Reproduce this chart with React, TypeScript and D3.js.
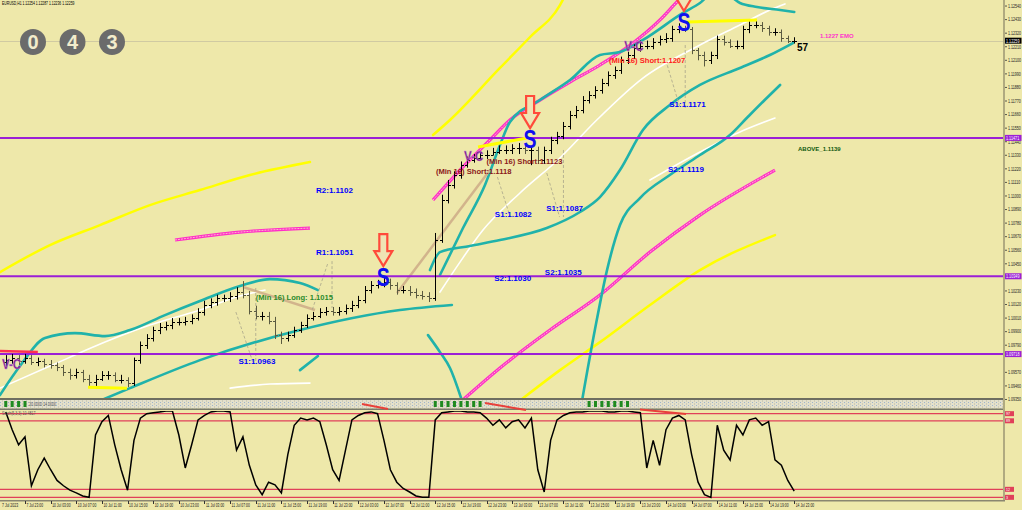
import React from "react";
import * as d3 from "d3";

// ---------------- data ----------------
const header = "EURUSD,H1  1.12254 1.12287 1.12236 1.12259";
const counterDigits = ["0", "4", "3"];

// H1 bars, [open, high, low, close]; first bar = 7 Jul 20:00 (t = -3)
const firstBarT = -3;
const bars: [number, number, number, number][] = [
  [1.0965, 1.0971, 1.0962, 1.0967], [1.0967, 1.0972, 1.0964, 1.0969], [1.0969, 1.0971, 1.0963, 1.0966],
  [1.0966, 1.0972, 1.0964, 1.0969], [1.0969, 1.0971, 1.0963, 1.0965], [1.0965, 1.0969, 1.0962, 1.0966],
  [1.0966, 1.0968, 1.0961, 1.0964], [1.0964, 1.0967, 1.096, 1.0963], [1.0963, 1.0965, 1.0958, 1.0961],
  [1.0961, 1.0963, 1.0954, 1.0957], [1.0957, 1.096, 1.0951, 1.0955], [1.0955, 1.096, 1.0952, 1.0957],
  [1.0957, 1.0959, 1.0949, 1.0952], [1.0952, 1.0955, 1.0946, 1.0949], [1.0949, 1.0955, 1.0946, 1.0952],
  [1.0952, 1.0958, 1.095, 1.0955], [1.0955, 1.0958, 1.0951, 1.0955], [1.0955, 1.0957, 1.0949, 1.0951],
  [1.0951, 1.0955, 1.0948, 1.0951], [1.0951, 1.0953, 1.0945, 1.0948], [1.0948, 1.0969, 1.0946, 1.0967],
  [1.0967, 1.0982, 1.0964, 1.0979], [1.0979, 1.0988, 1.0976, 1.0985], [1.0985, 1.0994, 1.0982, 1.0991],
  [1.0991, 1.0997, 1.0988, 1.0994], [1.0994, 1.0998, 1.0991, 1.0995], [1.0995, 1.1001, 1.0992, 1.0998],
  [1.0998, 1.1001, 1.0995, 1.0998], [1.0998, 1.1002, 1.0995, 1.0999], [1.0999, 1.1004, 1.0996, 1.1001],
  [1.1001, 1.1009, 1.0999, 1.1006], [1.1006, 1.1015, 1.1003, 1.1012], [1.1012, 1.1017, 1.1009, 1.1014],
  [1.1014, 1.102, 1.1011, 1.1017], [1.1017, 1.102, 1.1014, 1.1017], [1.1017, 1.1022, 1.1014, 1.1019],
  [1.1019, 1.1026, 1.1016, 1.1022], [1.1022, 1.1031, 1.1017, 1.102], [1.102, 1.1023, 1.1004, 1.1007],
  [1.1007, 1.1011, 1.1, 1.1003], [1.1003, 1.1006, 1.0999, 1.1003], [1.1003, 1.1006, 1.0996, 1.0999],
  [1.0999, 1.1002, 1.0984, 1.0987], [1.0987, 1.099, 1.098, 1.0985], [1.0985, 1.099, 1.0982, 1.0987],
  [1.0987, 1.0994, 1.0985, 1.0991], [1.0991, 1.0998, 1.0989, 1.0995], [1.0995, 1.1004, 1.0993, 1.1001],
  [1.1001, 1.1006, 1.0999, 1.1003], [1.1003, 1.1009, 1.1001, 1.1006], [1.1006, 1.101, 1.1003, 1.1007],
  [1.1007, 1.101, 1.1003, 1.1006], [1.1006, 1.101, 1.1003, 1.1007], [1.1007, 1.1012, 1.1004, 1.1009],
  [1.1009, 1.1015, 1.1006, 1.1012], [1.1012, 1.1019, 1.1009, 1.1016], [1.1016, 1.1027, 1.1013, 1.1024],
  [1.1024, 1.1031, 1.1021, 1.1028], [1.1028, 1.1032, 1.1025, 1.1029], [1.1029, 1.1034, 1.1026, 1.103],
  [1.103, 1.1033, 1.1024, 1.1028], [1.1028, 1.103, 1.102, 1.1024], [1.1024, 1.1027, 1.1021, 1.1024],
  [1.1024, 1.1027, 1.1019, 1.1022], [1.1022, 1.1025, 1.1017, 1.102], [1.102, 1.1023, 1.1016, 1.1019],
  [1.1019, 1.1022, 1.1014, 1.1017], [1.1017, 1.107, 1.1015, 1.1064], [1.1064, 1.1101, 1.1062, 1.1097],
  [1.1097, 1.1113, 1.1094, 1.1109], [1.1109, 1.112, 1.1106, 1.1117], [1.1117, 1.1128, 1.1114, 1.1125],
  [1.1125, 1.1132, 1.1123, 1.1129], [1.1129, 1.1134, 1.1127, 1.1131], [1.1131, 1.1136, 1.1129, 1.1133],
  [1.1133, 1.1137, 1.113, 1.1133], [1.1133, 1.1139, 1.1133, 1.1136], [1.1136, 1.1141, 1.1134, 1.1137],
  [1.1137, 1.1141, 1.1134, 1.1137], [1.1137, 1.1142, 1.1134, 1.1139], [1.1139, 1.1143, 1.1134, 1.1139],
  [1.1139, 1.1142, 1.1134, 1.1137], [1.1137, 1.114, 1.1125, 1.1137], [1.1137, 1.114, 1.1126, 1.1129],
  [1.1129, 1.114, 1.1126, 1.1137], [1.1137, 1.1148, 1.1134, 1.1145], [1.1145, 1.1152, 1.1142, 1.1149],
  [1.1149, 1.116, 1.1146, 1.1157], [1.1157, 1.1169, 1.1154, 1.1166], [1.1166, 1.1173, 1.1163, 1.117],
  [1.117, 1.1181, 1.1167, 1.1178], [1.1178, 1.1185, 1.1175, 1.1182], [1.1182, 1.1189, 1.1179, 1.1186],
  [1.1186, 1.1195, 1.1183, 1.1192], [1.1192, 1.1201, 1.1189, 1.1198], [1.1198, 1.1205, 1.1195, 1.1202],
  [1.1202, 1.1213, 1.1199, 1.121], [1.121, 1.1217, 1.1207, 1.1214], [1.1214, 1.1223, 1.1211, 1.122],
  [1.122, 1.1226, 1.1217, 1.1222], [1.1222, 1.1226, 1.1219, 1.1222], [1.1222, 1.1228, 1.1219, 1.1225],
  [1.1225, 1.123, 1.1222, 1.1227], [1.1227, 1.1232, 1.1224, 1.1228], [1.1228, 1.1238, 1.1225, 1.1235],
  [1.1235, 1.124, 1.1232, 1.1236], [1.1236, 1.1238, 1.1233, 1.1235], [1.1235, 1.1237, 1.1215, 1.1218],
  [1.1218, 1.122, 1.121, 1.1214], [1.1214, 1.1217, 1.1205, 1.121], [1.121, 1.1217, 1.1207, 1.1214],
  [1.1214, 1.123, 1.1211, 1.1227], [1.1227, 1.123, 1.1222, 1.1225], [1.1225, 1.1227, 1.122, 1.1222],
  [1.1222, 1.1226, 1.1219, 1.1222], [1.1222, 1.1238, 1.1219, 1.1235], [1.1235, 1.1243, 1.1232, 1.1239],
  [1.1239, 1.1243, 1.1236, 1.1239], [1.1239, 1.1241, 1.1233, 1.1236], [1.1236, 1.1238, 1.123, 1.1233],
  [1.1233, 1.1236, 1.123, 1.1233], [1.1233, 1.1235, 1.1225, 1.1228], [1.1228, 1.123, 1.1224, 1.1226],
  [1.12254, 1.12287, 1.12236, 1.12259],
];
const stochMain = [
  99, 79, 62, 71, 16, 34, 47, 34, 22, 16, 11, 8, 4.5, 3, 73, 88, 95, 62, 34, 11,
  67, 92, 97, 98, 99, 100, 100, 73, 36, 62, 90, 95, 99, 100, 100, 99, 56, 71, 39, 17,
  6, 20, 17, 8, 51, 84, 92, 90, 92, 88, 62, 34, 22, 56, 90, 95, 98, 99, 97, 67,
  34, 20, 13, 9, 4.5, 3, 3, 90, 98, 99, 100, 100, 99, 99, 98, 92, 84, 90, 81, 88,
  90, 81, 92, 34, 9, 67, 90, 95, 98, 99, 99, 100, 100, 100, 99, 99, 100, 100, 99, 98,
  36, 67, 39, 79, 92, 95, 90, 51, 20, 6, 3, 84, 56, 45, 84, 73, 90, 92, 84, 88,
  45, 39, 22, 10,
];
const stochLevels = [97, 89, 12, 3];
const greenBlocks = [0, 1, 2, 3, 67, 68, 69, 70, 71, 72, 73, 74, 91, 92, 93, 94, 95, 96, 97];

// price axis
const priceTicks = [
  1.1254, 1.1243, 1.1232, 1.1221, 1.121, 1.1199, 1.1188, 1.1177, 1.1166, 1.1155,
  1.1144, 1.1133, 1.1122, 1.1111, 1.11, 1.1089, 1.1078, 1.1067, 1.1056, 1.1045,
  1.1023, 1.1012, 1.1001, 1.099, 1.0979, 1.0957, 1.0946, 1.0935,
];
const levelLines = [1.11471, 1.10349, 1.09718];
const currentPrice = 1.12259;

// time axis: [label, t]
const timeTicks: [string, number][] = [
  ["7 Jul 23:00", 0], ["10 Jul 03:00", 4], ["10 Jul 07:00", 8], ["10 Jul 11:00", 12],
  ["10 Jul 15:00", 16], ["10 Jul 19:00", 20], ["10 Jul 23:00", 24], ["11 Jul 03:00", 28],
  ["11 Jul 07:00", 32], ["11 Jul 11:00", 36], ["11 Jul 15:00", 40], ["11 Jul 19:00", 44],
  ["11 Jul 23:00", 48], ["12 Jul 03:00", 52], ["12 Jul 07:00", 56], ["12 Jul 11:00", 60],
  ["12 Jul 15:00", 64], ["12 Jul 19:00", 68], ["12 Jul 23:00", 72], ["13 Jul 03:00", 76],
  ["13 Jul 07:00", 80], ["13 Jul 11:00", 84], ["13 Jul 15:00", 88], ["13 Jul 19:00", 92],
  ["13 Jul 23:00", 96], ["14 Jul 03:00", 100], ["14 Jul 07:00", 104], ["14 Jul 11:00", 108],
  ["14 Jul 15:00", 112], ["14 Jul 19:00", 116], ["14 Jul 23:00", 120],
];

// indicator band segments [t, price]
const yellowUpperA: [number, number][] = [[-3.9, 1.10383], [3.9, 1.10602], [11.7, 1.10764], [19.5, 1.10926], [27.3, 1.11048], [35.1, 1.1117], [44.46, 1.11275]];
const yellowUpperB: [number, number][] = [[63.65, 1.11494], [66.3, 1.11616], [74.1, 1.12038], [78.8, 1.12289], [83.46, 1.12548], [84.2, 1.1262]];
const yellowLower: [number, number][] = [[77.2, 1.0934], [83.46, 1.09588], [89.7, 1.09815], [97.5, 1.10116], [105.3, 1.10399], [117.0, 1.10683]];
const pinkUpperA: [number, number][] = [[23.4, 1.10643], [33.54, 1.10707], [44.46, 1.1074]];
const pinkUpperB: [number, number][] = [[63.65, 1.10967], [67.86, 1.1121], [72.54, 1.11454], [75.66, 1.11616], [80.34, 1.11778], [85.02, 1.11924], [89.7, 1.12062], [94.85, 1.1224], [99.06, 1.12427], [101.7, 1.12573], [102.96, 1.1264]];
const pinkLower: [number, number][] = [[68.17, 1.0934], [74.1, 1.09605], [81.9, 1.09913], [89.7, 1.10197], [97.5, 1.10545], [105.3, 1.10845], [117.0, 1.1121]];
const tealUpperA: [number, number][] = [[-3.9, 1.09386], [-0.78, 1.09621], [3.12, 1.09848], [7.8, 1.09888], [12.48, 1.09864], [16.38, 1.09913], [21.84, 1.10034], [27.3, 1.10148], [33.54, 1.1027], [38.22, 1.10326], [42.9, 1.10294], [45.7, 1.10237]];
const tealShort: [number, number][] = [[42.9, 1.09588], [45.7, 1.09702]];
const tealLowerA: [number, number][] = [[11.7, 1.0934], [16.38, 1.09442], [27.3, 1.09669], [42.9, 1.09913], [58.5, 1.10075], [66.6, 1.10116]];
const tealDip: [number, number][] = [[62.87, 1.09872], [64.74, 1.09734], [66.3, 1.09605], [68.17, 1.0934]];
const tealUpperB: [number, number][] = [[64.74, 1.10359], [68.33, 1.1074], [71.76, 1.11089], [74.1, 1.11413], [75.66, 1.116], [80.34, 1.11778], [85.02, 1.1194], [89.7, 1.12143], [92.82, 1.12167], [96.4, 1.12265], [102.65, 1.12484], [105.3, 1.12565], [107.2, 1.1264], [109.2, 1.1264], [111.54, 1.12565], [114.2, 1.12532], [117.8, 1.12508], [120, 1.12492]];
const tealLowerMid: [number, number][] = [[63.18, 1.10399], [64.74, 1.10545], [69.42, 1.10595], [74.1, 1.10643], [81.4, 1.1074], [86.58, 1.1087], [89.7, 1.10991], [92.82, 1.1121], [96.4, 1.11535], [100.6, 1.11737], [105.3, 1.119], [111.54, 1.12038], [116.22, 1.12143], [119.8, 1.1224]];
const tealOuter: [number, number][] = [[86.9, 1.0934], [88.9, 1.09913], [90.8, 1.10399], [92.82, 1.10764], [95.94, 1.10983], [100.6, 1.1117], [105.3, 1.11332], [109.98, 1.11494], [112.6, 1.11632], [115.4, 1.11778], [117.8, 1.119]];
const whiteMidA: [number, number][] = [[-3.9, 1.09442], [3.9, 1.09621], [13.26, 1.09832], [19.5, 1.09953], [27.3, 1.10075], [33.54, 1.10189], [37.44, 1.10237]];
const whiteLowA: [number, number][] = [[32.0, 1.09442], [38.22, 1.09475], [44.46, 1.09483]];
const whiteMidB: [number, number][] = [[64.74, 1.10221], [67.86, 1.10464], [71.45, 1.10724], [77.22, 1.11024], [83.46, 1.11308], [89.2, 1.11616], [96.4, 1.11956], [105.3, 1.12224], [111.54, 1.12386], [116.22, 1.12508], [118.56, 1.12557]];
const whiteLowB: [number, number][] = [[97.5, 1.11129], [105.3, 1.11356], [111.54, 1.11519], [117.0, 1.11632]];

// drawn objects: [t1, p1, t2, p2]
const yellowMarks: [number, number, number, number][] = [[9.83, 1.0945, 15.9, 1.09442], [70.67, 1.11397, 78.3, 1.1147], [103.28, 1.12411, 114.2, 1.12427]];
const tanLines: [number, number, number, number][] = [[34.0, 1.10262, 45.24, 1.10075], [58.04, 1.10213, 72.54, 1.1121]];
const redMark: [number, number, number, number] = [-3.9, 1.09743, 2.0, 1.09735];
const dashedLinks: [number, number, number, number][] = [
  [32.9, 1.10059, 35.6, 1.09645], [36.0, 1.10254, 36.0, 1.09645],
  [47.9, 1.10472, 47.9, 1.10091], [47.2, 1.10448, 44.8, 1.10075],
  [73.7, 1.11154, 75.7, 1.10829], [81.4, 1.11186, 83.4, 1.10829], [84.0, 1.11373, 84.0, 1.10829],
  [100.2, 1.1206, 102.2, 1.11713], [103.0, 1.12224, 103.0, 1.11713],
];
const stochRedLines: [number, number, number, number][] = [[362, 404, 388, 409], [485, 403, 526, 410], [640, 409.5, 686, 414]];

// annotations
const vcMarks: [number, number][] = [[-3.6, 1.096], [68.5, 1.1128], [93.5, 1.12175]];
const sMarks: [number, number][] = [[55.9, 1.10342], [78.8, 1.11462], [102.8, 1.12411]];
const pivotLabels: [string, number, number][] = [
  ["S1:1.0963", 33.3, 1.0963], ["R1:1.1051", 45.4, 1.1051], ["R2:1.1102", 45.4, 1.1102],
  ["S1:1.1082", 73.3, 1.1082], ["S1:1.1087", 81.3, 1.1087], ["S2:1.1030", 73.2, 1.103],
  ["S2:1.1035", 81.1, 1.1035], ["S2:1.1119", 100.3, 1.1119], ["S1:1.1171", 100.5, 1.1171],
];
const minLabels: [string, number, number, string][] = [
  ["(Min 16) Short:1.1118", 64.1, 1.1118, "#8b1a1a"],
  ["(Min 16) Short:1.1123", 72, 1.1123, "#8b1a1a"],
  ["(Min 16) Short:1.1207", 91.1, 1.1207, "#ff1a1a"],
  ["(Min 16) Long: 1.1015", 36, 1.1015, "#2a8a2a"],
];

// ---------------- layout ----------------
const W = 1022;
const H = 510;
const PR = 1003;
const MAIN_B = 398;
const STO_T = 411;
const STO_B = 500;

const x = d3.scaleLinear().domain([0, 120]).range([25, 794.2]);
const y = d3.scaleLinear().domain([1.09362, 1.12589]).range([MAIN_B, 0]);
const ys = d3.scaleLinear().domain([0, 100]).range([STO_B, STO_T]);

const lineGen = d3
  .line<[number, number]>()
  .x((d) => x(d[0]))
  .y((d) => y(d[1]))
  .curve(d3.curveMonotoneX);

const AX = "Liberation Sans, Arial, sans-serif";
// vertical nudges (px) to keep the two stacked labels apart, as in the reference
const labelNudge: Record<string, number> = {
  "(Min 16) Short:1.1123": -2.5,
  "(Min 16) Short:1.1118": 1,
};

function Band({ d, color, w }: { d: [number, number][]; color: string; w: number }) {
  return <path d={lineGen(d) || ""} fill="none" stroke={color} strokeWidth={w} strokeLinecap="round" />;
}
function PinkBand({ d }: { d: [number, number][] }) {
  return (
    <g>
      <path d={lineGen(d) || ""} fill="none" stroke="#ff2ec8" strokeWidth={3.2} />
      <path d={lineGen(d) || ""} fill="none" stroke="#ffb8c8" strokeWidth={1} strokeDasharray="2 1" />
    </g>
  );
}
function Seg({ s, color, w, dash }: { s: [number, number, number, number]; color: string; w: number; dash?: string }) {
  return <line x1={x(s[0])} y1={y(s[1])} x2={x(s[2])} y2={y(s[3])} stroke={color} strokeWidth={w} strokeDasharray={dash} />;
}
function Tiny({ tx, ty, sx, children, fill = "#222", size = 5 }: { tx: number; ty: number; sx: number; children: React.ReactNode; fill?: string; size?: number }) {
  return (
    <text transform={`translate(${tx},${ty}) scale(${sx},1)`} fontFamily={AX} fontSize={size} fill={fill}>
      {children}
    </text>
  );
}

function Arrow({ cx, tipY }: { cx: number; tipY: number }) {
  const p = `M${cx - 4},${tipY - 32} L${cx + 4},${tipY - 32} L${cx + 4},${tipY - 15} L${cx + 9},${tipY - 15} L${cx},${tipY} L${cx - 9},${tipY - 15} L${cx - 4},${tipY - 15} Z`;
  return <path d={p} fill="#efe4b4" stroke="#ff4a3a" strokeWidth={2.2} strokeLinejoin="miter" />;
}

export default function App() {
  const stochPts = stochMain.map((v, i) => [x(firstBarT + i), ys(v)] as [number, number]);
  const stochPath = d3.line()(stochPts) || "";
  return (
    <div style={{ position: "fixed", left: 0, top: 0, width: W, height: H }}>
      <svg width={W} height={H} style={{ display: "block" }}>
        <defs>
          <clipPath id="mainClip">
            <rect x={0} y={0} width={PR} height={MAIN_B} />
          </clipPath>
          <clipPath id="stoClip">
            <rect x={0} y={STO_T} width={PR} height={STO_B - STO_T} />
          </clipPath>
          <pattern id="dots" x={0} y={0} width={4} height={3} patternUnits="userSpaceOnUse">
            <rect x={0} y={0} width={4} height={3} fill="#e4e0cc" />
            <rect x={0} y={0} width={1} height={1} fill="#9fb4cc" />
            <rect x={2} y={1.5} width={1} height={1} fill="#b8b8a8" />
          </pattern>
        </defs>
        <rect x={0} y={0} width={W} height={H} fill="#eee8aa" />

        <line x1={0} x2={PR} y1={Math.round(y(currentPrice)) + 0.5} y2={Math.round(y(currentPrice)) + 0.5} stroke="#d0caa2" strokeWidth={1} />

        <g clipPath="url(#mainClip)">
          <Band d={yellowUpperA} color="#ffff00" w={2.5} />
          <Band d={yellowUpperB} color="#ffff00" w={2.5} />
          <Band d={yellowLower} color="#ffff00" w={2.5} />
          <PinkBand d={pinkUpperA} />
          <PinkBand d={pinkUpperB} />
          <PinkBand d={pinkLower} />
          <Band d={whiteMidA} color="#ffffff" w={1.6} />
          <Band d={whiteLowA} color="#ffffff" w={1.6} />
          <Band d={whiteMidB} color="#ffffff" w={1.6} />
          <Band d={whiteLowB} color="#ffffff" w={1.6} />
          <Band d={tealUpperA} color="#20b2aa" w={2.6} />
          <Band d={tealShort} color="#20b2aa" w={2.6} />
          <Band d={tealLowerA} color="#20b2aa" w={2.6} />
          <Band d={tealDip} color="#20b2aa" w={2.6} />
          <Band d={tealUpperB} color="#20b2aa" w={2.6} />
          <Band d={tealLowerMid} color="#20b2aa" w={2.6} />
          <Band d={tealOuter} color="#20b2aa" w={2.6} />

          {tanLines.map((s, i) => <Seg key={"tan" + i} s={s} color="#d2b48c" w={2.5} />)}
          {dashedLinks.map((s, i) => <Seg key={"dl" + i} s={s} color="#a8a48a" w={0.8} dash="3 2" />)}

          {levelLines.map((p) => (
            <line key={p} x1={0} x2={PR} y1={y(p)} y2={y(p)} stroke="#9b1fd6" strokeWidth={2} />
          ))}
          <Seg s={redMark} color="#ff3050" w={2.5} />

          {bars.map(([o, h, l, c], i) => {
            const bx = Math.round(x(firstBarT + i)) + 0.5;
            return (
              <g key={i} stroke={c >= o ? "#000000" : "#5a5a40"} strokeWidth={1}>
                <line x1={bx} x2={bx} y1={y(h)} y2={y(l)} />
                <line x1={bx - 2.5} x2={bx} y1={Math.round(y(o)) + 0.5} y2={Math.round(y(o)) + 0.5} />
                <line x1={bx} x2={bx + 2.5} y1={Math.round(y(c)) + 0.5} y2={Math.round(y(c)) + 0.5} />
              </g>
            );
          })}
          {yellowMarks.map((s, i) => <Seg key={"ym" + i} s={s} color="#ffff00" w={3} />)}

          {pivotLabels.map(([txt, t, p]) => (
            <text key={txt + t} x={x(t)} y={y(p) - 1} fontFamily={AX} fontWeight="bold" fontSize={8} fill="#0000ff">
              {txt}
            </text>
          ))}
          {minLabels.map(([txt, t, p, col]) => (
            <text key={txt} x={x(t)} y={y(p) - 1 + (labelNudge[txt] || 0)} fontFamily={AX} fontWeight="bold" fontSize={7.6} fill={col}>
              {txt}
            </text>
          ))}
          {vcMarks.map(([t, p]) => (
            <text key={"vc" + t} transform={`translate(${x(t)},${y(p)}) scale(0.82,1)`} fontFamily={AX} fontWeight="900" fontSize={14} fill="#7d1a8c" stroke="#c890d8" strokeWidth={0.4}>
              V-C
            </text>
          ))}
          {sMarks.map(([t, p]) => (
            <g key={"s" + t}>
              <Arrow cx={x(t)} tipY={y(p) - 11} />
              <text transform={`translate(${x(t)},${y(p) + 9}) scale(0.78,1)`} textAnchor="middle" fontFamily={AX} fontWeight="900" fontSize={25} fill="#1010ee">
                S
              </text>
            </g>
          ))}
          <text x={820} y={38} fontFamily={AX} fontWeight="bold" fontSize={6} fill="#ff33cc">1.1227 EMO</text>
          <text x={797} y={51} fontFamily={AX} fontWeight="bold" fontSize={10} fill="#000">57</text>
          <text x={798} y={151} fontFamily={AX} fontWeight="bold" fontSize={6} fill="#0f5a0f">ABOVE_1.1139</text>
        </g>

        <Tiny tx={2} ty={5} sx={0.68} fill="#000">{header}</Tiny>
        {counterDigits.map((d, i) => (
          <g key={i}>
            <circle cx={33 + i * 39.5} cy={42} r={13} fill="#6b6b6b" />
            <text x={33 + i * 39.5} y={49} textAnchor="middle" fontFamily={AX} fontWeight="bold" fontSize={20} fill="#f2eccc">
              {d}
            </text>
          </g>
        ))}

        {/* sub-window strip */}
        <rect x={0} y={MAIN_B} width={PR} height={2} fill="#6e6e60" />
        <rect x={0} y={400} width={PR} height={8.5} fill="url(#dots)" />
        <rect x={0} y={408.5} width={PR} height={1.5} fill="#7a7a6a" />
        {greenBlocks.map((i) => (
          <rect key={"gb" + i} x={x(firstBarT + i) - 1.5} y={401} width={3} height={6} fill="#1f8a1f" />
        ))}
        <Tiny tx={29} ty={406} sx={0.8} size={4.5} fill="#555">20.0000 14.0000</Tiny>

        {/* stochastic */}
        <g clipPath="url(#stoClip)">
          {stochLevels.map((v) => (
            <line key={v} x1={0} x2={PR} y1={ys(v)} y2={ys(v)} stroke="#e0405a" strokeWidth={1.2} />
          ))}
          <path d={stochPath} fill="none" stroke="#000" strokeWidth={1.5} />
        </g>
        {stochRedLines.map((s, i) => (
          <line key={"srl" + i} x1={s[0]} y1={s[1]} x2={s[2]} y2={s[3]} stroke="#e8403a" strokeWidth={2} />
        ))}
        <Tiny tx={2} ty={415} sx={0.8} size={4.5} fill="#555">Stoch(5,3,3) 10.4817</Tiny>

        {/* right axis */}
        <rect x={PR} y={0} width={2} height={STO_B + 1} fill="#b0aa80" />
        <rect x={0} y={STO_B} width={PR + 2} height={1.5} fill="#8a8670" />
        {priceTicks.map((p) => (
          <g key={p}>
            <line x1={PR + 2} x2={PR + 4} y1={y(p)} y2={y(p)} stroke="#333" strokeWidth={0.8} />
            <Tiny tx={PR + 5} ty={y(p) + 1.8} sx={0.72}>{p.toFixed(5)}</Tiny>
          </g>
        ))}
        <rect x={PR + 2} y={y(currentPrice) - 3} width={16.5} height={6} fill="#000" />
        <Tiny tx={PR + 3} ty={y(currentPrice) + 1.8} sx={0.75} fill="#fff">{currentPrice.toFixed(5)}</Tiny>
        {levelLines.map((p) => (
          <g key={"lb" + p}>
            <rect x={PR + 2} y={y(p) - 3} width={16.5} height={6} fill="#9b1fd6" />
            <Tiny tx={PR + 3} ty={y(p) + 1.8} sx={0.75} fill="#fff">{p.toFixed(5)}</Tiny>
          </g>
        ))}
        {stochLevels.map((v) => (
          <g key={"sl" + v}>
            <rect x={PR + 2} y={ys(v) - 2.5} width={9} height={5} fill="#e0405a" />
            <Tiny tx={PR + 3} ty={ys(v) + 1.6} sx={0.9} size={4} fill="#fff">{v}</Tiny>
          </g>
        ))}

        {/* time axis */}
        <Tiny tx={2} ty={507} sx={0.7}>7 Jul 2023</Tiny>
        {timeTicks.map(([lab, t]) => (
          <g key={lab}>
            <line x1={Math.round(x(t)) + 0.5} x2={Math.round(x(t)) + 0.5} y1={STO_B + 1} y2={STO_B + 4} stroke="#333" />
            <Tiny tx={x(t) + 1.5} ty={507} sx={0.68}>{lab}</Tiny>
          </g>
        ))}
      </svg>
    </div>
  );
}
